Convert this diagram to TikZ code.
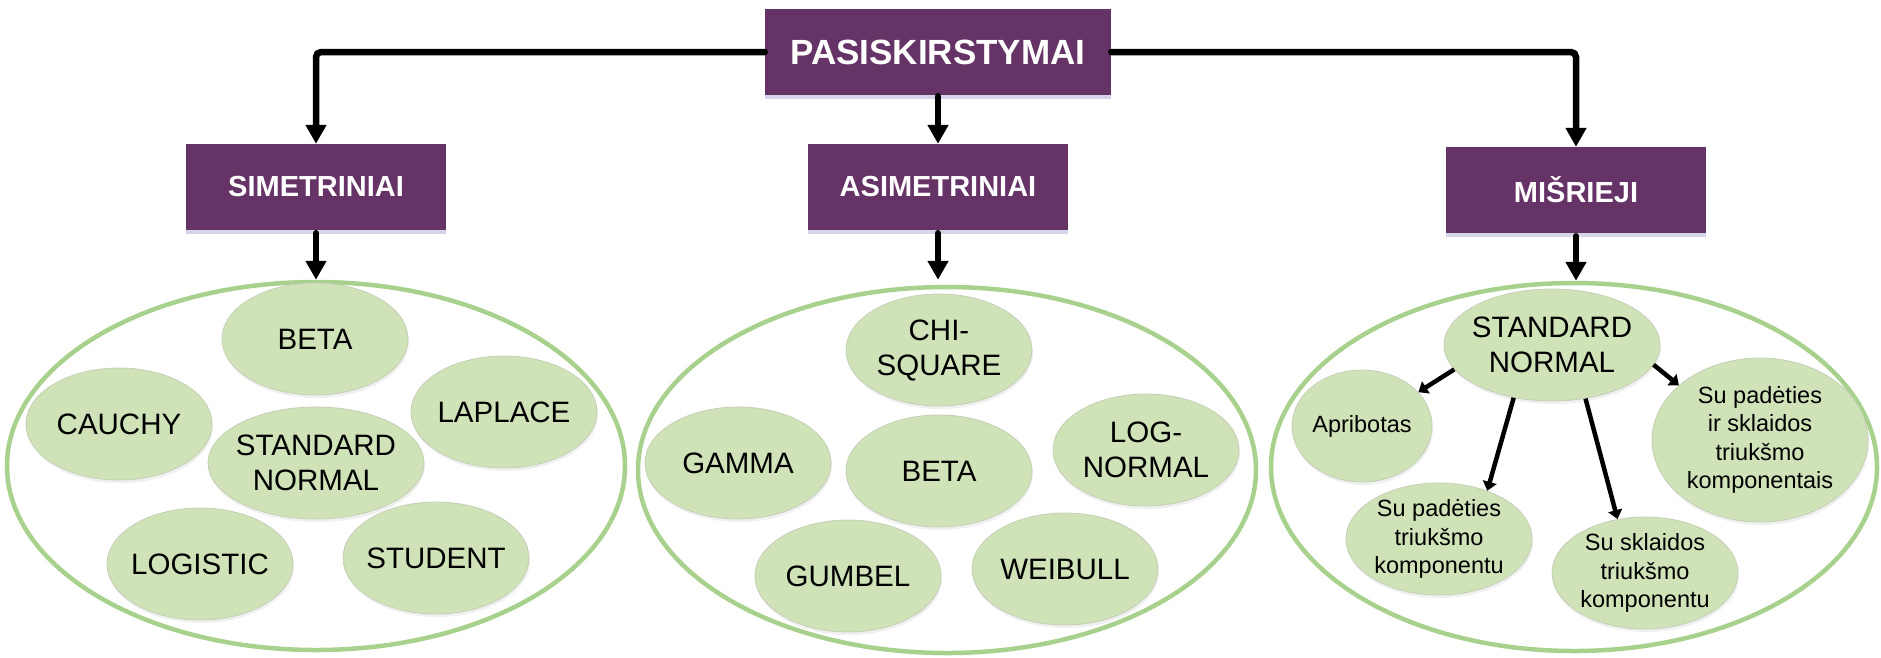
\documentclass[tikz,border=0pt]{standalone}
\usepackage{fontspec}
\setmainfont{Liberation Sans}
\usetikzlibrary{shapes.geometric,arrows.meta,shadows}
\definecolor{boxpurple}{HTML}{663366}
\definecolor{ovalfill}{HTML}{D0E2B8}
\definecolor{ringgreen}{HTML}{A9D18E}
\definecolor{ovalline}{HTML}{C4D0B6}
\begin{document}
\begin{tikzpicture}[x=1pt,y=-1pt,
  catbox/.style={fill=boxpurple, text=white, font=\fontsize{29}{34}\selectfont\bfseries,
    minimum width=260pt, minimum height=86pt, inner sep=0pt,
    drop shadow={opacity=0.25, fill=blue!30!gray, shadow xshift=0pt, shadow yshift=-4pt}},
  topbox/.style={catbox, font=\fontsize{35}{40}\selectfont\bfseries, minimum width=346pt},
  ring/.style={ellipse, draw=ringgreen, line width=4.5pt, inner sep=0pt},
  oval/.style={ellipse, fill=ovalfill, draw=ovalline, line width=0.8pt,
    inner xsep=-16pt, inner ysep=0pt,
    minimum width=186pt, minimum height=112pt, align=center,
    font=\fontsize{29.5}{35}\selectfont,
    drop shadow={opacity=0.12, shadow xshift=1pt, shadow yshift=-3pt}},
  smalloval/.style={oval, font=\fontsize{23.5}{28.3}\selectfont},
  mainarrow/.style={line width=6.5pt, line cap=round, rounded corners=5pt,
    -{Triangle[length=19pt,width=20pt]}},
  subarrow/.style={line width=4.5pt, -{Triangle[length=9pt,width=14pt]}}
]
\useasboundingbox (0,0) rectangle (1881,657);

% category boxes
\node[topbox] (top) at (938,52) {PASISKIRSTYMAI};
\node[catbox] (sim) at (316,187) {SIMETRINIAI};
\node[catbox] (asim) at (938,187) {ASIMETRINIAI};
\node[catbox] (mix) at (1576,190) {MIŠRIEJI};

% big rings
\node[ring, minimum width=618pt, minimum height=368pt] (r1) at (316,466) {};
\node[ring, minimum width=618pt, minimum height=366pt] (r2) at (947,470) {};
\node[ring, minimum width=606pt, minimum height=368pt] (r3) at (1574,467) {};

% connectors from top
\draw[mainarrow] (top.west) -| (sim.north);
\draw[mainarrow] (top.east) -| (mix.north);
\draw[mainarrow] ([yshift=-1pt]top.south) -- (asim.north);
\draw[mainarrow] ([yshift=-3pt]sim.south) -- (sim.south |- r1.north);
\draw[mainarrow] ([yshift=-3pt]asim.south) -- ([yshift=5pt]asim.south |- r2.north);
\draw[mainarrow] ([yshift=-3pt]mix.south) -- (mix.south |- r3.north);

% left group
\node[oval] (b1) at (315,339) {BETA};
\node[oval] (ca) at (119,424) {CAUCHY};
\node[oval] (la) at (504,412) {LAPLACE};
\node[oval, minimum width=216pt] (sn1) at (316,463) {STANDARD\\NORMAL};
\node[oval] (lo) at (200,564) {LOGISTIC};
\node[oval] (st) at (436,558) {STUDENT};

% middle group
\node[oval] (chi) at (939,350) {CHI-\\SQUARE};
\node[oval] (ga) at (738,463) {GAMMA};
\node[oval] (b2) at (939,471) {BETA};
\node[oval] (ln) at (1146,450) {LOG-\\NORMAL};
\node[oval] (gu) at (848,576) {GUMBEL};
\node[oval] (we) at (1065,569) {WEIBULL};

% right group
\node[oval, minimum width=216pt] (sn3) at (1552,345) {STANDARD\\NORMAL};
\node[smalloval, minimum width=140pt] (apr) at (1362,426) {Apribotas};
\node[smalloval] (spt) at (1439,539) {Su padėties\\triukšmo\\komponentu};
\node[smalloval] (sst) at (1645,573) {Su sklaidos\\triukšmo\\komponentu};
\node[smalloval, minimum width=216pt, minimum height=164pt] (spst) at (1760,440) {Su padėties\\ir sklaidos\\triukšmo\\komponentais};

\draw[subarrow] (sn3.194) -- (apr.31);
\draw[subarrow] (sn3.234) -- (spt.45);
\draw[subarrow] (sn3.-58) -- (sst.117);
\draw[subarrow] (sn3.-11) -- (spst.146);
\end{tikzpicture}
\end{document}
